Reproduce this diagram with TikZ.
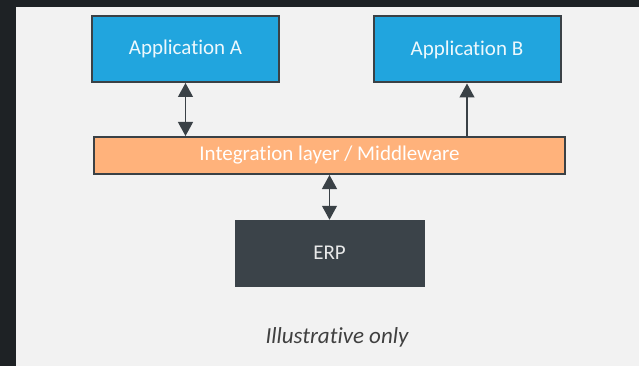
\documentclass[tikz,border=0pt]{standalone}
\usepackage{fontspec}
\setmainfont{Carlito}[Ligatures=NoCommon]
\usetikzlibrary{arrows.meta}
\definecolor{appblue}{HTML}{21A5DE}
\definecolor{midorange}{HTML}{FFB27B}
\definecolor{erpgray}{HTML}{3B4349}
\definecolor{edge}{HTML}{3A4146}
\definecolor{panel}{HTML}{F2F2F2}
\definecolor{frame}{HTML}{1E2225}

\begin{document}
\begin{tikzpicture}[x=1pt, y=-1pt,
  box/.style={draw=edge, line width=2pt, inner sep=0pt,
    font=\fontsize{21}{25}\selectfont},
  appbox/.style={box, fill=appblue, text=white!92!appblue,
    minimum width=187pt, minimum height=66pt},
  conn/.style={edge, line width=1.2pt,
    arrows={-Triangle[length=14pt, width=15pt]}}]
\fill [frame] (0, 0) rectangle (639, 366);
\fill [panel] (16, 7) rectangle (639, 366);
\useasboundingbox (0, 0) rectangle (639, 366);

\node [appbox] (appA) at (185.5, 49) {Application A};
\node [appbox] (appB) at (467, 49.5) {Application B};
\node [box, fill=midorange, text=white, minimum width=471pt,
  minimum height=37pt] (mid) at (329.5, 155.5) {Integration layer / Middleware};
\node [box, draw=erpgray, line width=0.5pt, fill=erpgray, text=white!88!erpgray,
  minimum width=189pt, minimum height=66pt] (erp) at (329.5, 253) {ERP};

\draw [conn, {Triangle[length=14pt, width=15pt]}-{Triangle[length=14pt, width=15pt]}]
  (appA.south) -- (appA.south |- mid.north);
\draw [conn] (appB.south |- mid.north) -- (appB.south);
\draw [conn, {Triangle[length=14pt, width=15pt]}-{Triangle[length=14pt, width=15pt]}]
  (mid.south) -- (erp.north);

\node [text=black!75, font=\fontsize{23}{27}\selectfont\itshape] (note)
  at (337, 337) {Illustrative only};
\end{tikzpicture}
\end{document}
